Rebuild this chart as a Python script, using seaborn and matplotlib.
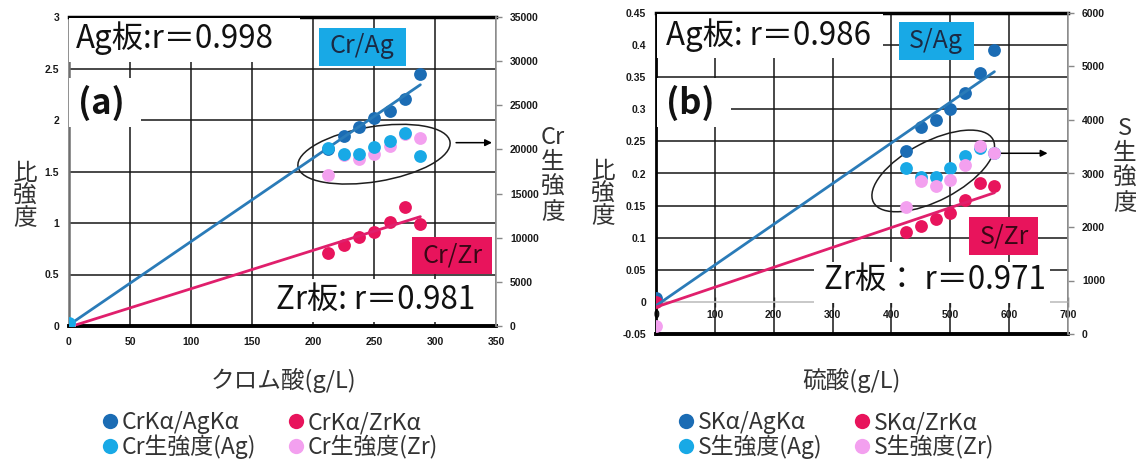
import numpy as np
import pandas as pd
import seaborn as sns
import matplotlib.pyplot as plt
from matplotlib.lines import Line2D
from matplotlib.patches import Ellipse, Rectangle
from matplotlib.transforms import ScaledTranslation

# (a) chromic acid bath
cr_conc = [0, 212, 225, 238, 250, 263, 275, 288]
cr_ag_ratio = [0.02, 1.715, 1.845, 1.935, 2.015, 2.085, 2.20, 2.445]
cr_zr_ratio = [0.01, 0.71, 0.79, 0.86, 0.91, 1.005, 1.16, 0.99]
cr_ag_raw = [300, 20150, 19450, 19450, 20300, 21000, 21850, 19250]
cr_zr_raw = [200, 17100, 19350, 18950, 19450, 20400, 21700, 21250]

# (b) sulfuric acid bath
s_conc = [0, 425, 450, 475, 500, 525, 550, 575]
s_ag_ratio = [0.006, 0.235, 0.2725, 0.283, 0.301, 0.325, 0.357, 0.392]
s_zr_ratio = [0.0, 0.109, 0.118, 0.1285, 0.139, 0.1595, 0.1855, 0.180]
s_ag_raw = [np.nan, 3100, 2935, 2935, 3100, 3320, 3470, 3380]
s_zr_raw = [150, 2365, 2855, 2775, 2880, 3165, 3505, 3380]

a_xticks = [0, 50, 100, 150, 200, 250, 300, 350]
a_yticks = [0, 0.5, 1, 1.5, 2, 2.5, 3]
a_ylabels = ["0", "0.5", "1", "1.5", "2", "2.5", "3"]
a_y2ticks = [0, 5000, 10000, 15000, 20000, 25000, 30000, 35000]
b_xticks = [0, 100, 200, 300, 400, 500, 600, 700]
b_yticks = [-0.05, 0, 0.05, 0.1, 0.15, 0.2, 0.25, 0.3, 0.35, 0.4, 0.45]
b_ylabels = ["-0.05", "0", "0.05", "0.1", "0.15", "0.2", "0.25", "0.3", "0.35", "0.4", "0.45"]
b_y2ticks = [0, 1000, 2000, 3000, 4000, 5000, 6000]

DBLUE = "#1b6cb4"
LBLUE = "#18a9e6"
RED = "#e8145c"
PINK = "#f3a0ef"
BLUE_LINE = "#2a7bb8"
RED_LINE = "#e01f6c"

W, H = 1136, 461
sns.set_theme(style="white")
plt.rcParams['font.family'] = ['Noto Sans CJK JP', 'DejaVu Sans']
fig = plt.figure(figsize=(W / 100, H / 100), dpi=100)


def fbox(l, t, r, b):
    return [l / W, 1 - b / H, (r - l) / W, (b - t) / H]


def ftext(x, y, s, **kw):
    fig.text(x / W, 1 - y / H, s, **kw)


def frect(l, t, r, b, color, z=2):
    x, y, w, h = fbox(l, t, r, b)
    fig.add_artist(Rectangle((x, y), w, h, transform=fig.transFigure,
                             facecolor=color, edgecolor="none", zorder=z))


def tickfont(labels, size=7.5):
    for t in labels:
        t.set_fontweight("bold")
        t.set_fontfamily("Liberation Sans")
        t.set_fontsize(size)
        t.set_color("#1a1a1a")


def trend(ax, x, y, color):
    k, c = np.polyfit(x, y, 1)
    xs = np.array([min(x), max(x)])
    sns.lineplot(x=xs, y=k * xs + c, ax=ax, color=color, lw=2, zorder=4)


def panel(ax, xt, yt, ylab, y2t, conc, ag, zr, ag_raw, zr_raw, pink_top):
    ax.set_xlim(xt[0], xt[-1])
    ax.set_ylim(yt[0], yt[-1])
    sns.scatterplot(x=conc, y=ag, ax=ax, color=DBLUE, s=85, linewidth=0, zorder=3)
    sns.scatterplot(x=conc, y=zr, ax=ax, color=RED, s=85, linewidth=0, zorder=3)
    trend(ax, conc, ag, BLUE_LINE)
    trend(ax, conc, zr, RED_LINE)
    ax.set_xticks(xt)
    ax.set_yticks(yt, labels=ylab)
    ax.grid(True, color="#161616", lw=1.1)
    ax.tick_params(length=0, pad=7)
    tickfont(ax.get_yticklabels())
    tickfont(ax.get_xticklabels())
    ax2 = ax.twinx()
    ax2.set_ylim(y2t[0], y2t[-1])
    order = [(ag_raw, LBLUE), (zr_raw, PINK)]
    if not pink_top:
        order = order[::-1]
    for vals, col in order:
        sns.scatterplot(x=conc, y=vals, ax=ax2, color=col, s=85, linewidth=0, zorder=3)
    ax2.set_yticks(y2t, labels=[str(v) for v in y2t])
    ax2.tick_params(axis="y", length=4, width=1, color="#888888", pad=6)
    tickfont(ax2.get_yticklabels())
    for a in (ax, ax2):
        for sp in a.spines.values():
            sp.set_visible(False)
    ax2.spines["right"].set_visible(True)
    ax2.spines["right"].set_color("#9a9a9a")
    ax2.spines["right"].set_linewidth(1.2)
    ax.spines["top"].set_visible(True)
    ax.spines["top"].set_color("black")
    ax.spines["top"].set_linewidth(2.5)
    ax.spines["left"].set_visible(True)
    ax.spines["bottom"].set_visible(True)
    ax.spines["bottom"].set_color("black")
    ax.spines["bottom"].set_linewidth(2.8)
    ax.set_xlabel("")
    ax.set_ylabel("")
    ax2.set_ylabel("")
    for a in (ax, ax2):
        if a.get_legend():
            a.get_legend().remove()
    return ax2


# ---------- (a) ----------
axa = fig.add_axes(fbox(69, 17, 496, 326))
axa2 = panel(axa, a_xticks, a_yticks, a_ylabels, a_y2ticks,
             cr_conc, cr_ag_ratio, cr_zr_ratio, cr_ag_raw, cr_zr_raw, pink_top=False)
axa.spines["left"].set_color("#6f6f6f")
axa.spines["left"].set_linewidth(1.8)
axa.tick_params(axis="x", pad=8)

ell = Ellipse((0, 0), 1.54, 0.55, angle=9.3, fill=False, edgecolor="#1e1e1e", lw=1.1,
              transform=fig.dpi_scale_trans + ScaledTranslation(250, 1.668, axa.transData))
axa.add_patch(ell)
axa.annotate("", xy=(349, 1.78), xytext=(315, 1.78),
             arrowprops=dict(arrowstyle="-|>", color="black", lw=1.1, mutation_scale=10))

# ---------- (b) ----------
axb = fig.add_axes(fbox(656, 13, 1068, 334))
axb2 = panel(axb, b_xticks, b_yticks, b_ylabels, b_y2ticks,
             s_conc, s_ag_ratio, s_zr_ratio, s_ag_raw, s_zr_raw, pink_top=True)
axb.spines["left"].set_color("black")
axb.spines["left"].set_linewidth(2)
axb.tick_params(axis="x", labelbottom=False)
axb.get_ygridlines()[1].set_color("#c8c8c8")
sec = axb.secondary_xaxis(0.1)
sec.set_xticks(b_xticks, labels=[str(v) for v in b_xticks])
sec.spines["bottom"].set_color("#c8c8c8")
sec.tick_params(direction="inout", length=7, width=1, color="#555555", pad=2)
tickfont(sec.get_xticklabels())

ell = Ellipse((0, 0), 1.35, 0.59, angle=27.7, fill=False, edgecolor="#1e1e1e", lw=1.1,
              transform=fig.dpi_scale_trans + ScaledTranslation(471, 0.204, axb.transData))
axb.add_patch(ell)
axb.annotate("", xy=(670, 0.2315), xytext=(576, 0.2315),
             arrowprops=dict(arrowstyle="-|>", color="black", lw=1.1, mutation_scale=10))

# ---------- labels / boxes ----------
TXT = "#111111"
BIG = 22.5
# (a)
frect(69, 18, 300, 62, "white")
ftext(76, 38, "Ag板:r＝0.998", fontsize=BIG, va="center", color=TXT, zorder=3)
frect(69, 78, 141, 127, "white")
ftext(78, 103, "(a)", fontsize=25, fontweight="bold", va="center", color=TXT, zorder=3)
frect(319, 28, 406, 66, LBLUE)
ftext(362, 46, "Cr/Ag", fontsize=18, ha="center", va="center", color="#1b2a44", zorder=3)
frect(412, 237, 492, 274, RED)
ftext(452, 255, "Cr/Zr", fontsize=18, ha="center", va="center", color="#3a0716", zorder=3)
frect(262, 279, 490, 322, "white")
ftext(376, 300, "Zr板: r＝0.981", fontsize=BIG, ha="center", va="center", color=TXT, zorder=3)
ftext(25, 196, "比\n強\n度", fontsize=17, ha="center", va="center", color="#333333", linespacing=0.95)
ftext(553, 175, "Cr\n生\n強\n度", fontsize=17, ha="center", va="center", color="#333333", linespacing=1.1)
ftext(283, 380, "クロム酸(g/L)", fontsize=17, ha="center", va="center", color="#333333")

# (b)
frect(657, 14, 883, 58, "white")
ftext(666, 35, "Ag板: r＝0.986", fontsize=BIG, va="center", color=TXT, zorder=3)
frect(657, 78, 731, 127, "white")
ftext(666, 103, "(b)", fontsize=25, fontweight="bold", va="center", color=TXT, zorder=3)
frect(899, 22, 974, 60, LBLUE)
ftext(936, 41, "S/Ag", fontsize=18, ha="center", va="center", color="#1b2a44", zorder=3)
frect(969, 217, 1038, 255, RED)
ftext(1004, 236, "S/Zr", fontsize=18, ha="center", va="center", color="#3a0716", zorder=3)
frect(814, 262, 1050, 303, "white")
ftext(935, 280, "Zr板： r＝0.971", fontsize=BIG, ha="center", va="center", color=TXT, zorder=3)
ftext(603, 194, "比\n強\n度", fontsize=17, ha="center", va="center", color="#333333", linespacing=0.95)
ftext(1125, 166, "S\n生\n強\n度", fontsize=17, ha="center", va="center", color="#333333", linespacing=1.1)
ftext(851, 380, "硫酸(g/L)", fontsize=17, ha="center", va="center", color="#333333")


def mk(c):
    return Line2D([], [], marker="o", ls="", color=c, markersize=11, markeredgewidth=0)


for x0, names in [(93, ["CrKα/AgKα", "Cr生強度(Ag)", "CrKα/ZrKα", "Cr生強度(Zr)"]),
                  (669, ["SKα/AgKα", "S生強度(Ag)", "SKα/ZrKα", "S生強度(Zr)"])]:
    fig.legend([mk(DBLUE), mk(LBLUE), mk(RED), mk(PINK)], names, ncol=2,
               loc="upper left", bbox_to_anchor=(x0 / W, 1 - 400 / H),
               frameon=False, fontsize=16.5, handlelength=0.5, handletextpad=0.25,
               columnspacing=1.5, labelspacing=0.02, borderpad=0,
               labelcolor="#333333")

fig.savefig("out.png", dpi=100)
